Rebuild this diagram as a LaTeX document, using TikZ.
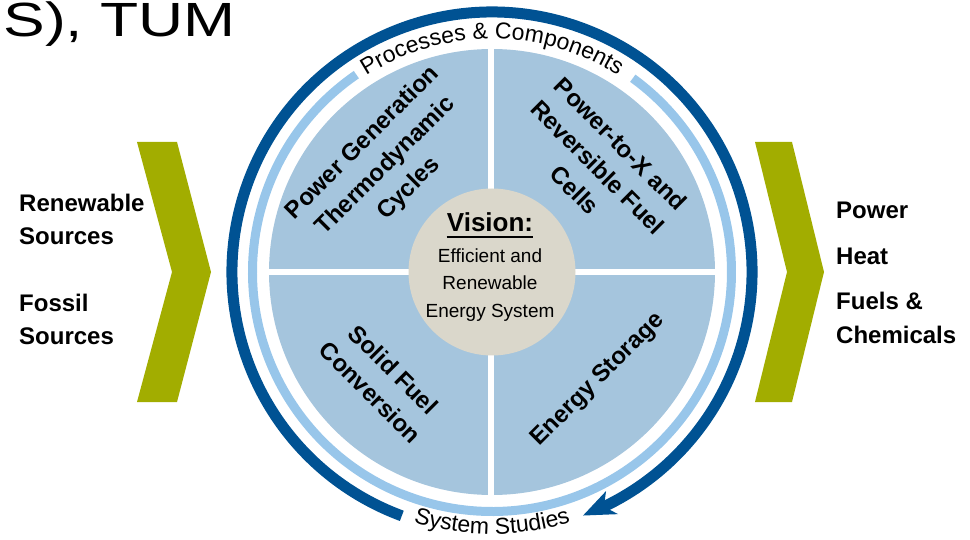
\documentclass[tikz,border=0pt]{standalone}
\usepackage{fontspec}
\setmainfont{Liberation Sans}
\usetikzlibrary{decorations.text}
\definecolor{quadblue}{HTML}{A5C5DD}
\definecolor{ringlight}{HTML}{98C6EA}
\definecolor{ringdark}{HTML}{005293}
\definecolor{visiongray}{HTML}{DAD7CB}
\definecolor{chevgreen}{HTML}{A2AD00}
\newcommand\ringfont{\fontsize{23}{27}\selectfont}

\begin{document}
\begin{tikzpicture}[x=1pt,y=1pt,
  sidelabel/.style={font=\fontsize{24}{28}\selectfont\bfseries, anchor=base west, inner sep=0},
  quadlabel/.style={font=\fontsize{24}{32.5}\selectfont\bfseries, align=center, inner sep=0},
  visionline/.style={font=\fontsize{19}{23}\selectfont, anchor=base, inner sep=0},
  chevron/.style={fill=chevgreen, draw=none}]
\useasboundingbox (0,0) rectangle (970,539);
\clip (0,0) rectangle (970,539);

% header fragment, cut by the left edge
\node[font=\fontsize{48}{56}\selectfont, anchor=base east, inner sep=0, xscale=1.3] (title) at (236,502) {ES), TUM};

% input and output chevrons
\fill[chevron] (137,397) -- (177,397) -- (211,267) -- (177,137) -- (137,137) -- (172,267) -- cycle;
\fill[chevron] (755,397) -- (792,397) -- (824,267) -- (792,137) -- (755,137) -- (787,267) -- cycle;

% inputs
\node[sidelabel] (ren1) at (19,327) {Renewable};
\node[sidelabel] (ren2) at (19,294) {Sources};
\node[sidelabel] (fos1) at (19,227) {Fossil};
\node[sidelabel] (fos2) at (19,194) {Sources};

% outputs
\node[sidelabel] (out1) at (836,320) {Power};
\node[sidelabel] (out2) at (836,274) {Heat};
\node[sidelabel] (out3) at (836,229) {Fuels \&};
\node[sidelabel] (out4) at (836,196) {Chemicals};

\begin{scope}[shift={(492,267)}]
  % four research fields
  \fill[quadblue] (0,0) circle[radius=223];
  \draw[white, line width=6] (-226,0) -- (226,0) (-1.5,-226) -- (-1.5,226);
  \fill[visiongray] (0,0) circle[radius=83.5];

  % inner ring, open at the top for its label
  \draw[ringlight, line width=9] (124.5:239.5) arc[start angle=124.5, end angle=414, radius=239.5];

  % outer ring with arrow head, open at the bottom for its label
  \draw[ringdark, line width=11] (249.7:260) arc[start angle=249.7, end angle=-65, radius=260];
  \fill[ringdark] (-69.5:260) -- (-62.5:247) -- (-64.5:260) -- (-62.5:273) -- cycle;

  % ring labels
  \path[decorate, decoration={text along path, text align=center,
      text={|\ringfont|Processes {\&} Components}}]
    (155:233) arc[start angle=155, end angle=25, radius=233];
  \path[decorate, decoration={text along path, text align=center,
      text={|\ringfont|System Studies}}]
    (225:262) arc[start angle=225, end angle=315, radius=262];
\end{scope}

% field labels
\node[quadlabel, rotate=45] (pg) at (386,373) {Power Generation\\Thermodynamic\\Cycles};
\node[quadlabel, rotate=-45] (px) at (598,372) {Power-to-X and\\Reversible Fuel\\Cells};
\node[quadlabel, rotate=-45] (sf) at (382,158) {Solid Fuel\\Conversion};
\node[quadlabel, rotate=45] (es) at (598,159) {Energy Storage};

% vision in the middle
\node[font=\fontsize{26}{30}\selectfont\bfseries, anchor=base, inner sep=0] (vis) at (490,307) {Vision:};
\draw[line width=2.2] ([yshift=-5]vis.base west) -- ([yshift=-5]vis.base east);
\node[visionline] (v1) at (490,276) {Efficient and};
\node[visionline] (v2) at (490,249) {Renewable};
\node[visionline] (v3) at (490,222) {Energy System};
\end{tikzpicture}
\end{document}
